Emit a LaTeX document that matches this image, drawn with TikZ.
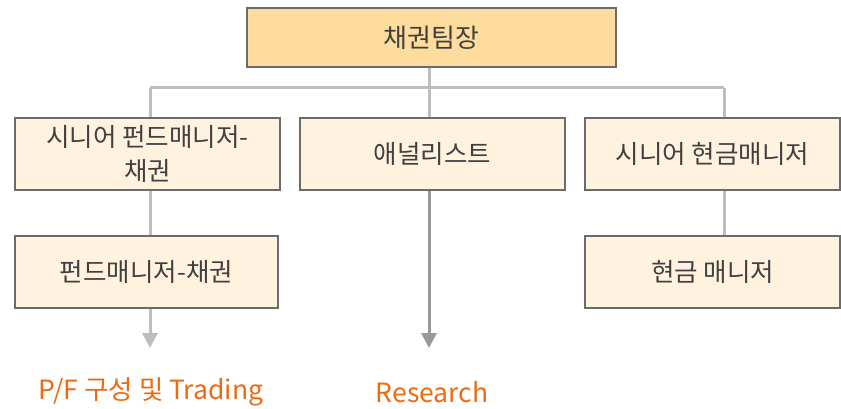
\documentclass[tikz,border=0pt]{standalone}
\usepackage{fontspec}
\setmainfont{Noto Sans CJK KR}
\usetikzlibrary{arrows.meta}
\definecolor{headfill}{HTML}{FDDC9D}
\definecolor{boxfill}{HTML}{FFF2DE}
\definecolor{boxline}{HTML}{6B6B6B}
\definecolor{linkgray}{HTML}{BDBDBD}
\definecolor{arrowdark}{HTML}{999999}
\definecolor{txtgray}{HTML}{404040}
\definecolor{noteorange}{HTML}{EE6A12}
\begin{document}
\begin{tikzpicture}[x=1pt,y=-1pt,
  orgbox/.style={draw=boxline,line width=1.2pt,fill=boxfill,text=txtgray,
    inner sep=0pt,align=center,font=\fontsize{25.5}{34}\selectfont},
  link/.style={draw=linkgray,line width=3pt},
  outarrow/.style={line width=3pt,-{Triangle[width=15pt,length=15pt]}},
  note/.style={text=noteorange,font=\fontsize{26.5}{30}\selectfont}]
\useasboundingbox (0,0) rectangle (841,409);
% head of the team
\node[orgbox,fill=headfill,minimum width=369pt,minimum height=59pt,
  font=\fontsize{26}{30}\selectfont] (head) at (431.5,37.5) {채권팀장};
% first row
\node[orgbox,minimum width=265pt,minimum height=72pt] (sfm) at (147.5,154) {시니어 펀드매니저-\\채권};
\node[orgbox,minimum width=265pt,minimum height=72pt] (ana) at (432.5,154) {애널리스트};
\node[orgbox,minimum width=255pt,minimum height=72pt] (scm) at (712.5,154) {시니어 현금매니저};
% second row
\node[orgbox,minimum width=263pt,minimum height=72pt] (fm) at (146.5,272) {펀드매니저-채권};
\node[orgbox,minimum width=255pt,minimum height=72pt] (cm) at (712.5,272) {현금 매니저};
% outputs
\node[note] (pf) at (151,392) {P/F 구성 및 Trading};
\node[note] (res) at (432,392) {Research};
\coordinate (bus) at (429,88);
\coordinate (pfend) at (150,348);
\coordinate (resend) at (429,348);
% connectors
\draw[link] (head.south -| bus) -- (bus);
\draw[link] (150,88) -- (724,88);
\draw[link] (150,88) -- (sfm.north -| 150,0);
\draw[link] (bus) -- (ana.north -| bus);
\draw[link] (724,88) -- (scm.north -| 724,0);
\draw[link] (sfm.south -| 150,0) -- (fm.north -| 150,0);
\draw[link] (scm.south -| 724,0) -- (cm.north -| 724,0);
\draw[outarrow,draw=linkgray,fill=linkgray!85!black] (fm.south -| pfend) -- (pfend);
\draw[outarrow,draw=arrowdark,fill=arrowdark] (ana.south -| resend) -- (resend);
\end{tikzpicture}
\end{document}
